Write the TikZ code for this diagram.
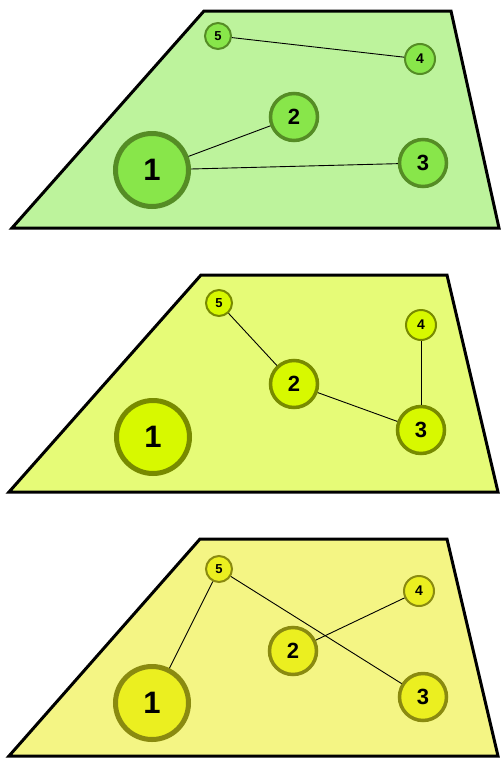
\documentclass[tikz,border=0pt]{standalone}
\usepackage{fontspec}
\setmainfont{Liberation Sans}
\definecolor{planeA}{HTML}{BDF39C}
\definecolor{nodeA}{HTML}{88E64A}
\definecolor{ringA}{HTML}{558C25}
\definecolor{planeB}{HTML}{E6FB77}
\definecolor{nodeB}{HTML}{D7F900}
\definecolor{ringB}{HTML}{788A00}
\definecolor{planeC}{HTML}{F4F584}
\definecolor{nodeC}{HTML}{EBEF20}
\definecolor{ringC}{HTML}{8A8A10}

\begin{document}
\begin{tikzpicture}[x=1pt, y=-1pt,
  plane/.style={draw=black, line width=3pt, line join=miter},
  vtx/.style={circle, inner sep=0pt, text=black},
  vone/.style={vtx, minimum size=73pt, line width=5pt, font=\fontsize{31}{31}\selectfont\bfseries},
  vmid/.style={vtx, minimum size=47pt, line width=3.5pt, font=\fontsize{22}{22}\selectfont\bfseries},
  vsmall/.style={vtx, minimum size=30pt, line width=2pt, font=\fontsize{14}{14}\selectfont\bfseries},
  vtiny/.style={vsmall, minimum size=26pt, font=\fontsize{13}{13}\selectfont\bfseries},
  link/.style={draw=black, line width=0.9pt}]
  \useasboundingbox (0,0) rectangle (501,758);

  % top plane
  \begin{scope}[every node/.style={fill=nodeA, draw=ringA}]
    \draw[plane, fill=planeA] (204,11) -- (451,11) -- (499,228) -- (12,228) -- cycle;
    \node[vtiny]  (a5) at (218,36)  {5};
    \node[vsmall] (a4) at (420,59)  {4};
    \node[vmid]   (a2) at (294,117) {2};
    \node[vone]   (a1) at (152,170) {1};
    \node[vmid]   (a3) at (423,163) {3};
    \draw[link] (a5) -- (a4);
    \draw[link] (a1) -- (a2);
    \draw[link] (a1) -- (a3);
  \end{scope}

  % middle plane
  \begin{scope}[every node/.style={fill=nodeB, draw=ringB}]
    \draw[plane, fill=planeB] (201,275) -- (447,275) -- (498,492) -- (9,492) -- cycle;
    \node[vtiny]  (b5) at (219,303) {5};
    \node[vsmall] (b4) at (421,325) {4};
    \node[vmid]   (b2) at (294,384) {2};
    \node[vone]   (b1) at (153,437) {1};
    \node[vmid]   (b3) at (421,430) {3};
    \draw[link] (b5) -- (b2);
    \draw[link] (b2) -- (b3);
    \draw[link] (b4) -- (b3);
  \end{scope}

  % bottom plane
  \begin{scope}[every node/.style={fill=nodeC, draw=ringC}]
    \draw[plane, fill=planeC] (200,539) -- (447,539) -- (498,756) -- (9,756) -- cycle;
    \node[vtiny]  (c5) at (219,569) {5};
    \node[vsmall] (c4) at (419,591) {4};
    \node[vmid]   (c2) at (293,651) {2};
    \node[vone]   (c1) at (152,703) {1};
    \node[vmid]   (c3) at (423,697) {3};
    \draw[link] (c5) -- (c1);
    \draw[link] (c5) -- (c3);
    \draw[link] (c2) -- (c4);
  \end{scope}
\end{tikzpicture}
\end{document}
